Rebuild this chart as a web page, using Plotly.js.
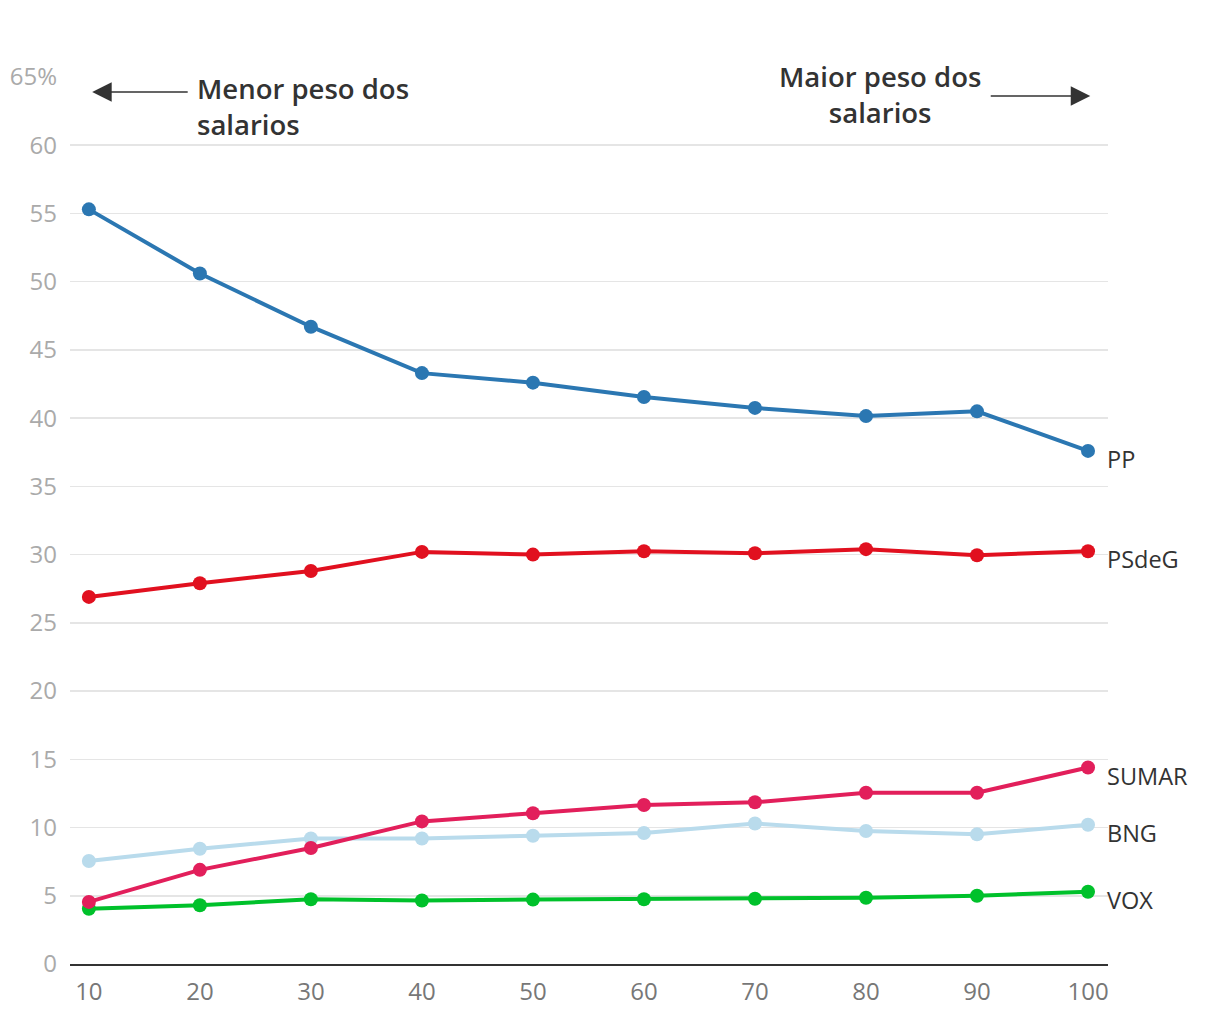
<!DOCTYPE html>
<html>
<head>
<meta charset="utf-8">
<script src="https://cdn.plot.ly/plotly-3.0.1.min.js"></script>
<style>
  html, body { margin: 0; padding: 0; background: #fff; }
  #chart { width: 1220px; height: 1020px; }
</style>
</head>
<body>
<div id="chart"></div>
<script>
// deciles of wage weight in income
const deciles = [10, 20, 30, 40, 50, 60, 70, 80, 90, 100];

const pp     = [55.3, 50.6, 46.7, 43.3, 42.6, 41.55, 40.75, 40.15, 40.5, 37.6];
const psdeg  = [26.9, 27.9, 28.8, 30.2, 30.0, 30.25, 30.1, 30.4, 29.95, 30.25];
const sumar  = [4.55, 6.9, 8.5, 10.45, 11.05, 11.65, 11.85, 12.55, 12.55, 14.4];
const bng    = [7.55, 8.45, 9.2, 9.2, 9.4, 9.6, 10.3, 9.75, 9.5, 10.2];
const vox    = [4.05, 4.3, 4.75, 4.65, 4.72, 4.75, 4.78, 4.85, 5.0, 5.3];

const yTickVals = [0, 5, 10, 15, 20, 25, 30, 35, 40, 45, 50, 55, 60, 65];
const yTickText = ["0", "5", "10", "15", "20", "25", "30", "35", "40", "45", "50", "55", "60", "65%"];

const series = [
    { name: "BNG",   y: bng,   color: "#b9dbec" },
    { name: "VOX",   y: vox,   color: "#00c12b" },
    { name: "SUMAR", y: sumar, color: "#e21f5b" },
    { name: "PSdeG", y: psdeg, color: "#e1101f" },
    { name: "PP",    y: pp,    color: "#2b77b2" }
];

const FONT = "'Open Sans', 'Noto Sans', sans-serif";

const traces = series.map(s => ({
    x: deciles,
    y: s.y,
    name: s.name,
    type: "scatter",
    mode: "lines+markers",
    line: { color: s.color, width: 4 },
    marker: { color: s.color, size: 14 },
    cliponaxis: false,
    hoverinfo: "x+y+name"
}));

const last = deciles.length - 1;
const labelAnnotations = series.map(s => ({
    x: deciles[last],
    y: s.y[last],
    xref: "x", yref: "y",
    text: s.name,
    showarrow: false,
    xanchor: "left",
    yanchor: "middle",
    xshift: 17,
    yshift: -8,
    font: { family: FONT, size: 23.5, color: "#333" }
}));

const noteAnnotations = [
    {
        x: 0.12, y: 1.01, xref: "paper", yref: "paper",
        text: "Menor peso dos<br>salarios",
        showarrow: false, xanchor: "left", yanchor: "top", align: "left",
        font: { family: FONT, size: 27.5, color: "#333", weight: 600 }
    },
    {
        x: 0.78, y: 1.024, xref: "paper", yref: "paper",
        text: "Maior peso dos<br>salarios",
        showarrow: false, xanchor: "center", yanchor: "top", align: "center",
        font: { family: FONT, size: 27.5, color: "#333", weight: 600 }
    },
    {
        x: 10.3, y: 63.9, xref: "x", yref: "y",
        ax: 97, ay: 0, axref: "pixel", ayref: "pixel",
        text: "", showarrow: true, arrowhead: 2, arrowsize: 2.6,
        arrowwidth: 1.5, arrowcolor: "#333"
    },
    {
        x: 100.2, y: 63.6, xref: "x", yref: "y",
        ax: -101, ay: 0, axref: "pixel", ayref: "pixel",
        text: "", showarrow: true, arrowhead: 2, arrowsize: 2.6,
        arrowwidth: 1.5, arrowcolor: "#333"
    }
];

const layout = {
    width: 1220,
    height: 1020,
    margin: { l: 70, r: 112, t: 77, b: 56 },
    paper_bgcolor: "#fff",
    plot_bgcolor: "#fff",
    showlegend: false,
    font: { family: FONT },
    xaxis: {
        range: [8.3, 101.8],
        tickvals: deciles,
        showgrid: false,
        zeroline: false,
        showline: true,
        linecolor: "#333",
        linewidth: 2,
        ticks: "",
        ticklabelstandoff: 5,
        tickfont: { family: FONT, size: 24, color: "#777" }
    },
    yaxis: {
        range: [0, 65],
        tickvals: yTickVals,
        ticktext: yTickText,
        showgrid: true,
        gridcolor: "#e5e5e5",
        gridwidth: 1.5,
        zeroline: false,
        showline: false,
        ticks: "",
        ticklabelstandoff: 12,
        tickfont: { family: FONT, size: 24, color: "#aaa" }
    },
    annotations: labelAnnotations.concat(noteAnnotations)
};

Plotly.newPlot("chart", traces, layout, { displayModeBar: false, staticPlot: true });
</script>
</body>
</html>
